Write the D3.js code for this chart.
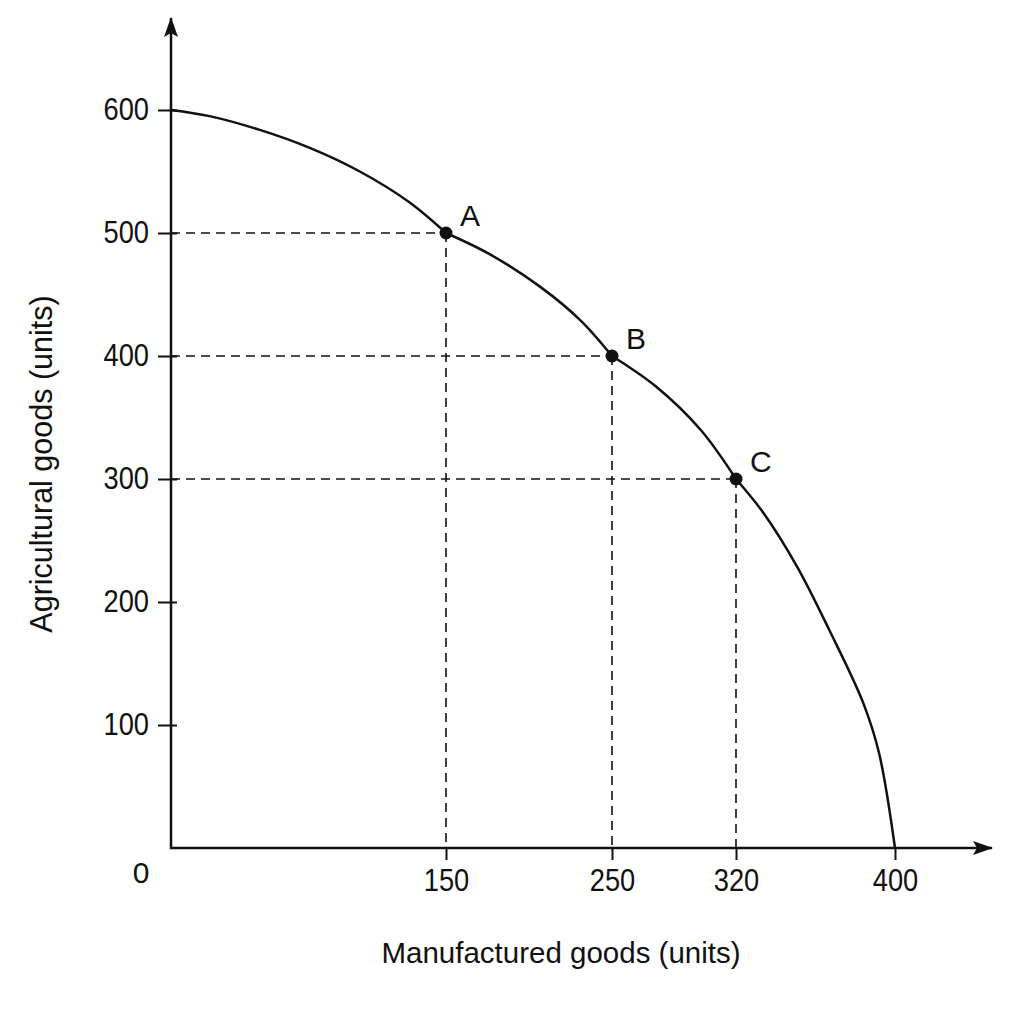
<!DOCTYPE html>
<html>
<head>
<meta charset="utf-8">
<script src="https://cdn.jsdelivr.net/npm/d3@7"></script>
<style>
  body { margin: 0; background: #fff; }
</style>
</head>
<body>
<script>
// Production possibility frontier
const curveX = [0, 21, 48, 76, 103, 130, 150, 176, 207, 231, 250, 275, 300, 320, 334, 351, 367, 384, 392, 400];
const curveY = [600, 595, 584, 569, 550, 525, 500, 483, 456, 429, 400, 375, 340, 300, 272, 228, 177, 118, 77, 0];

// Marked combinations
const pointNames = ["A", "B", "C"];
const pointX = [150, 250, 320];
const pointY = [500, 400, 300];

// Axis ticks
const xTicks = [150, 250, 320, 400];
const yTicks = [100, 200, 300, 400, 500, 600];
const xTitle = "Manufactured goods (units)";
const yTitle = "Agricultural goods (units)";

const width = 1024;
const height = 1024;
const font = "'Liberation Sans', Arial, sans-serif";
const ink = "#111";

// x spacing in the drawing is not quite uniform, so the scale is piecewise
const x = d3.scaleLinear()
    .domain([0, 150, 250, 320, 400])
    .range([171, 446, 612, 736, 895]);
const y = d3.scaleLinear()
    .domain([0, 600])
    .range([848, 110]);

const svg = d3.select("body")
    .append("svg")
    .attr("width", width)
    .attr("height", height)
    .attr("font-family", font);

// Arrow head
svg.append("defs")
    .append("marker")
    .attr("id", "arrow")
    .attr("markerUnits", "userSpaceOnUse")
    .attr("viewBox", "0 -8 20 16")
    .attr("refX", 19)
    .attr("refY", 0)
    .attr("markerWidth", 20)
    .attr("markerHeight", 16)
    .attr("orient", "auto")
    .append("path")
    .attr("d", "M0,-7L20,0L0,7L4,0Z")
    .attr("fill", ink);

// Dashed guides
const pts = pointX.map((d, i) => ({ name: pointNames[i], x: d, y: pointY[i] }));
const guides = svg.append("g")
    .attr("stroke", ink)
    .attr("stroke-width", 1.6)
    .attr("stroke-dasharray", "9,6");

guides.selectAll(".h")
    .data(pts)
    .join("line")
    .attr("x1", x(0))
    .attr("x2", d => x(d.x))
    .attr("y1", d => y(d.y))
    .attr("y2", d => y(d.y));

guides.selectAll(".v")
    .data(pts)
    .join("line")
    .attr("x1", d => x(d.x))
    .attr("x2", d => x(d.x))
    .attr("y1", d => y(d.y))
    .attr("y2", y(0));

// Axes (ticks and labels from d3, lines with arrows drawn separately)
const xAxis = svg.append("g")
    .attr("transform", `translate(0,${y(0)})`)
    .call(d3.axisBottom(x).tickValues(xTicks).tickSize(12).tickPadding(9))
    .call(g => g.select(".domain").remove());

const yAxis = svg.append("g")
    .attr("transform", `translate(${x(0)},0)`)
    .call(d3.axisLeft(y).tickValues(yTicks).tickSize(13).tickPadding(12))
    .call(g => g.select(".domain").remove());

// the tick digits in the picture are a little narrow and tall
[xAxis, yAxis].forEach(g => {
    g.attr("font-family", font).attr("font-size", 31);
    g.selectAll(".tick line").attr("stroke", ink).attr("stroke-width", 2);
    g.selectAll(".tick text").attr("fill", ink).attr("transform", "scale(0.88,1)");
});
yAxis.selectAll(".tick line").attr("x2", 6).attr("x1", -13);

svg.append("line")
    .attr("x1", x(0) - 1)
    .attr("x2", 992)
    .attr("y1", y(0))
    .attr("y2", y(0))
    .attr("stroke", ink)
    .attr("stroke-width", 2.5)
    .attr("marker-end", "url(#arrow)");

svg.append("line")
    .attr("x1", x(0))
    .attr("x2", x(0))
    .attr("y1", y(0) + 1)
    .attr("y2", 18)
    .attr("stroke", ink)
    .attr("stroke-width", 2.5)
    .attr("marker-end", "url(#arrow)");

// Origin label
svg.append("text")
    .attr("x", x(0) - 30)
    .attr("y", y(0) + 24)
    .attr("dy", "0.35em")
    .attr("text-anchor", "middle")
    .attr("font-size", 30)
    .attr("fill", ink)
    .text("0");

// Frontier curve: the drawing bends a little at A, B and C,
// so each stretch between marked points is smoothed on its own
const frontier = curveX.map((d, i) => ({ x: d, y: curveY[i] }));
const breaks = new Set(pointX);
const segments = [];
let current = [];
frontier.forEach(p => {
    current.push(p);
    if (breaks.has(p.x)) {
        segments.push(current);
        current = [p];
    }
});
segments.push(current);

const line = d3.line()
    .x(d => x(d.x))
    .y(d => y(d.y))
    .curve(d3.curveCatmullRom.alpha(0.5));

svg.append("g")
    .selectAll("path")
    .data(segments)
    .join("path")
    .attr("d", line)
    .attr("fill", "none")
    .attr("stroke", ink)
    .attr("stroke-width", 2.5)
    .attr("stroke-linecap", "round");

// Points and labels
svg.selectAll(".pt")
    .data(pts)
    .join("circle")
    .attr("cx", d => x(d.x))
    .attr("cy", d => y(d.y))
    .attr("r", 6.5)
    .attr("fill", ink);

svg.selectAll(".lbl")
    .data(pts)
    .join("text")
    .attr("x", d => x(d.x) + 14)
    .attr("y", d => y(d.y) - 7)
    .attr("font-size", 30)
    .attr("fill", ink)
    .text(d => d.name);

// Axis titles
svg.append("text")
    .attr("x", 561)
    .attr("y", 963)
    .attr("text-anchor", "middle")
    .attr("font-size", 29.5)
    .attr("fill", ink)
    .text(xTitle);

svg.append("text")
    .attr("transform", "translate(52,464) rotate(-90)")
    .attr("text-anchor", "middle")
    .attr("font-size", 30.5)
    .attr("fill", ink)
    .text(yTitle);
</script>
</body>
</html>
